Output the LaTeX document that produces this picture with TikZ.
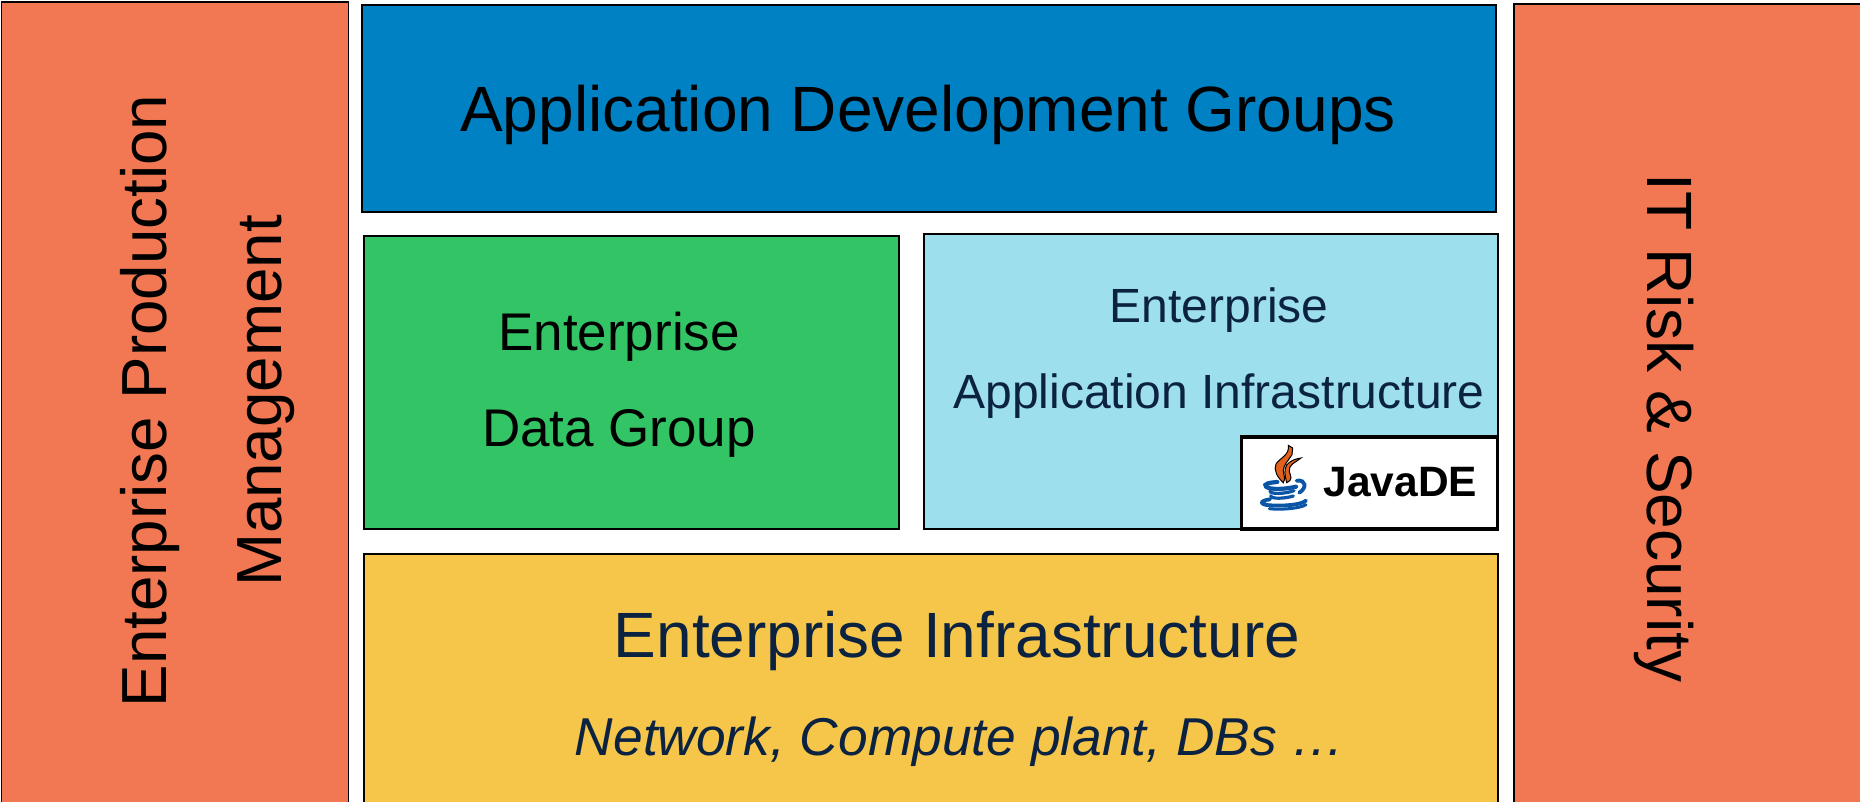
\documentclass[tikz,border=0pt]{standalone}
\usepackage{fontspec}
\setmainfont{Liberation Sans}
\definecolor{sideorange}{HTML}{F17852}
\definecolor{devblue}{HTML}{0081C3}
\definecolor{datagreen}{HTML}{33C565}
\definecolor{appblue}{HTML}{9EDFEE}
\definecolor{infrayellow}{HTML}{F6C64B}
\definecolor{navytext}{HTML}{0B2240}
\definecolor{flame}{HTML}{E0601C}
\definecolor{cupblue}{HTML}{0A55A5}
\tikzset{
  layerbox/.style={draw=black,line width=1.8pt,outer sep=0pt,anchor=north west,inner sep=0pt,align=center},
  flamepart/.style={fill=flame,draw=black,line width=1pt},
  cuppart/.style={draw=cupblue,line cap=round}
}
\newcommand{\bigtxt}{\fontsize{64}{76}\selectfont}
\begin{document}
\begin{tikzpicture}[x=1pt,y=-1pt]
\useasboundingbox (0,0) rectangle (1860,801);
% side columns
\node[layerbox,fill=sideorange,minimum width=347pt,minimum height=801pt] (production) at (1.5,2) {};
\node[layerbox,fill=sideorange,minimum width=350pt,minimum height=801pt] (risk) at (1514,4) {};
\node[rotate=90,align=center,font=\fontsize{63.7}{115}\selectfont] (productiontext) at (208,401) {Enterprise Production\\Management};
\node[rotate=-90,font=\fontsize{64}{76}\selectfont] (risktext) at (1664,428) {IT Risk \& Security};
% top layer
\node[layerbox,fill=devblue,minimum width=1134pt,minimum height=207pt] (dev) at (362,5) {};
\node[font=\bigtxt] (devtext) at (928,115) {Application Development Groups};
% middle layer
\node[layerbox,fill=datagreen,minimum width=535pt,minimum height=293pt] (data) at (364,236) {};
\node[align=center,font=\fontsize{53}{96}\selectfont] (datatext) at (619,385) {Enterprise\\Data Group};
\node[layerbox,fill=appblue,minimum width=574pt,minimum height=295pt] (app) at (924,234) {};
\node[align=center,text=navytext,font=\fontsize{48}{86}\selectfont] (apptext) at (1219,353) {Enterprise\\Application Infrastructure};
% bottom layer
\node[layerbox,fill=infrayellow,minimum width=1134pt,minimum height=260pt] (infra) at (364,554) {};
\node[text=navytext,font=\bigtxt] (infratext) at (957,641) {Enterprise Infrastructure};
\node[text=navytext,font=\fontsize{53.3}{64}\selectfont\itshape] (infrasub) at (960,742) {Network, Compute plant, DBs …};
% badge
\node[draw=black,fill=white,line width=3.6pt,outer sep=0pt,anchor=north west,minimum width=256pt,minimum height=92pt] (badge) at (1241.5,437) {};
\node[anchor=west,font=\fontsize{42.5}{50}\selectfont\bfseries] (badgetext) at (1320,482) {JavaDE};
% java logo
\begin{scope}[shift={(1220,420)},x=0.3333pt,y=-0.3333pt]
\path[flamepart] (205,76) -- (218,84) -- (216,104) .. controls (205,122) and (190,135) .. (190,152)
  .. controls (190,165) and (198,175) .. (190,188) .. controls (172,172) and (160,150) .. (168,132)
  .. controls (178,115) and (210,105) .. (205,76) -- cycle;
\path[flamepart] (243,114) .. controls (222,130) and (205,135) .. (208,155)
  .. controls (212,170) and (220,178) .. (200,188) .. controls (196,170) and (190,150) .. (200,135)
  .. controls (210,122) and (228,116) .. (243,114) -- cycle;
\draw[cuppart,line width=4.2pt] (172,186) .. controls (145,188) and (130,192) .. (138,200) .. controls (150,210) and (195,208) .. (228,200);
\draw[cuppart,line width=3.8pt] (230,182) .. controls (260,178) and (260,205) .. (238,218);
\draw[cuppart,line width=3.2pt] (150,212) .. controls (148,224) and (195,222) .. (222,212);
\draw[cuppart,line width=3.2pt] (152,227) .. controls (152,238) and (195,236) .. (220,228);
\draw[cuppart,line width=3.8pt] (150,238) .. controls (118,242) and (118,254) .. (150,256) .. controls (190,258) and (240,256) .. (258,242);
\draw[cuppart,line width=3pt] (148,266) .. controls (180,270) and (240,266) .. (258,254);
\end{scope}
\end{tikzpicture}
\end{document}
